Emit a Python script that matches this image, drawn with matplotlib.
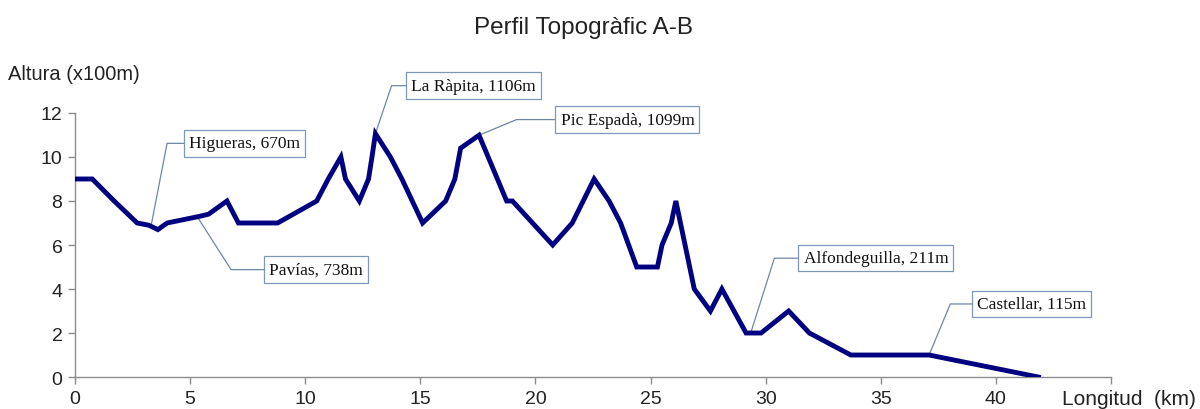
"""Perfil topogràfic A-B."""

import matplotlib

matplotlib.use("Agg")
import matplotlib.pyplot as plt

# distància (km) i altura (x100 m) llegides del perfil
dist_km = [0.0, 0.75, 1.7, 2.7, 3.2, 3.6, 4.0, 5.4, 5.8, 6.6, 7.1, 8.8, 10.5,
           11.0, 11.55, 11.75, 12.35, 12.75, 12.9, 13.05, 13.7, 14.2, 15.1,
           16.1, 16.5, 16.75, 17.55, 18.75, 19.0, 20.75, 21.6, 22.55, 23.2,
           23.7, 24.4, 25.3, 25.5, 25.9, 26.1, 26.9, 27.6, 28.1, 29.15, 29.8,
           31.0, 31.9, 33.7, 37.1, 41.85]
altura = [9.0, 9.0, 8.0, 7.0, 6.9, 6.7, 7.0, 7.3, 7.4, 8.0, 7.0, 7.0, 8.0,
          9.0, 10.0, 9.0, 8.0, 9.0, 10.0, 11.06, 10.0, 9.0, 7.0,
          8.0, 9.0, 10.4, 10.99, 8.0, 8.0, 6.0, 7.0, 9.0, 8.0,
          7.0, 5.0, 5.0, 6.0, 7.0, 8.0, 4.0, 3.0, 4.0, 2.0, 2.0,
          3.0, 2.0, 1.0, 1.0, 0.0]

# etiquetes: nom, punt (km, altura)
llocs = ["Higueras, 670m", "Pavías, 738m", "La Ràpita, 1106m",
         "Pic Espadà, 1099m", "Alfondeguilla, 211m", "Castellar, 115m"]
punt_km = [3.3, 5.3, 13.05, 17.55, 29.35, 37.1]
punt_alt = [6.85, 7.3, 11.06, 10.99, 2.0, 1.0]
# colze de la línia guia i inici de la caixa (km, altura)
colze = [(4.0, 10.62), (6.78, 4.88), (13.75, 13.24), (19.18, 11.7),
         (30.38, 5.4), (38.02, 3.32)]
caixa_x = [4.72, 8.2, 14.37, 20.87, 31.43, 38.96]

LINE = "#000080"
GUIDE = "#6f87a3"
BOX = "#7d97b8"
SPINE = "#8c8c8c"
SANS = ["Liberation Sans", "DejaVu Sans"]
SERIF = ["Liberation Serif", "DejaVu Serif"]


def main():
    fig = plt.figure(figsize=(12, 4.1), dpi=100)
    ax = fig.add_axes([0.0625, 0.078, 0.8633, 0.644])
    ax.plot(dist_km, altura, color=LINE, lw=3.5, solid_joinstyle="miter",
            zorder=3)

    ax.set_xlim(0, 45)
    ax.set_ylim(0, 12)
    ax.set_xticks(range(0, 46, 5), [str(v) for v in range(0, 41, 5)] + [""])
    ax.set_yticks(range(0, 13, 2))
    for side in ("top", "right"):
        ax.spines[side].set_visible(False)
    for side in ("left", "bottom"):
        ax.spines[side].set_color(SPINE)
        ax.spines[side].set_linewidth(1.0)
    ax.tick_params(direction="out", length=5, color=SPINE, width=1.0,
                   labelsize=14, pad=4)
    for lab in ax.get_xticklabels() + ax.get_yticklabels():
        lab.set_family(SANS)
        lab.set_color("#222222")

    for name, px, py, (ex, ey), bx in zip(llocs, punt_km, punt_alt, colze, caixa_x):
        ax.plot([px, ex, bx], [py, ey, ey], color=GUIDE, lw=0.9, zorder=2,
                clip_on=False)
        ax.text(bx + 0.22, ey, name, family=SERIF, fontsize=12.5, color="#111111",
                ha="left", va="center", clip_on=False, zorder=4,
                bbox=dict(boxstyle="square,pad=0.3", fc="white", ec=BOX, lw=0.9))

    fig.text(583 / 1200, 1 - 28 / 410, "Perfil Topogràfic A-B", family=SANS,
             fontsize=17.5, color="#222222", ha="center", va="center")
    fig.text(8 / 1200, 1 - 75 / 410, "Altura (x100m)", family=SANS,
             fontsize=14.5, color="#222222", ha="left", va="center")
    fig.text(1196 / 1200, 1 - 400 / 410, "Longitud  (km)", family=SANS,
             fontsize=15, color="#222222", ha="right", va="center")

    fig.savefig("out.png", dpi=100)
    plt.close(fig)


if __name__ == "__main__":
    main()
